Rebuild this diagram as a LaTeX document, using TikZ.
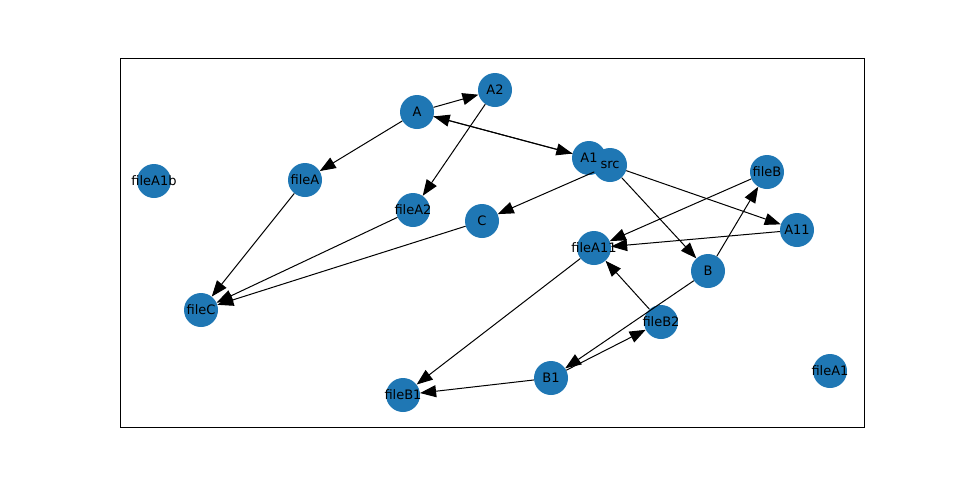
\documentclass[tikz,border=0pt]{standalone}
\usepackage{fontspec}
\setmainfont{DejaVu Sans}
\usetikzlibrary{arrows.meta}
\definecolor{nodeblue}{HTML}{1F77B4}
\tikzset{
  nd/.style={circle,fill=nodeblue,draw=none,minimum size=34pt,inner sep=0pt},
  txt/.style={font=\fontsize{13}{15}\selectfont,text=black,inner sep=0pt},
  edge/.style={draw=black,line width=1pt,-{Triangle[length=16pt,width=12pt]}},
}
\begin{document}
\begin{tikzpicture}[x=1pt,y=-1pt]
\useasboundingbox (0,0) rectangle (960,480);
\draw[line width=0.8pt] (120,58) rectangle (864,427);
\node[nd] (A) at (417,112) {};
\node[nd] (A2) at (495,90) {};
\node[nd] (A1) at (589,158) {};
\node[nd] (src) at (610,165) {};
\node[nd] (fileA) at (305,180) {};
\node[nd] (fileA1b) at (154,181) {};
\node[nd] (fileA2) at (413,210) {};
\node[nd] (C) at (482,221) {};
\node[nd] (fileB) at (767,172) {};
\node[nd] (A11) at (797,230) {};
\node[nd] (fileA11) at (594,248) {};
\node[nd] (B) at (708,271) {};
\node[nd] (fileC) at (201,310) {};
\node[nd] (fileB2) at (661,322) {};
\node[nd] (fileA1) at (830,371) {};
\node[nd] (B1) at (551,378) {};
\node[nd] (fileB1) at (403,395) {};
\foreach \n in {A,A2,A1,src,fileA,fileA1b,fileA2,C,fileB,A11,fileA11,B,fileC,fileB2,fileA1,B1,fileB1}
  \node[txt] (\n-t) at (\n) {\n};
\path[edge] (A) -- (A2);
\path[edge] (A) -- (fileA);
\path[edge] (A) -- (A1);
\path[edge] (A1) -- (A);
\path[edge] (A2) -- (fileA2);
\path[edge] (fileA) -- (fileC);
\path[edge] (fileA2) -- (fileC);
\path[edge] (C) -- (fileC);
\path[edge] (src) -- (C);
\path[edge] (src) -- (B);
\path[edge] (src) -- (A11);
\path[edge] (fileB) -- (fileA11);
\path[edge] (A11) -- (fileA11);
\path[edge] (B) -- (fileB);
\path[edge] (B) -- (B1);
\path[edge] (fileB2) -- (fileA11);
\path[edge] (B1) -- (fileB2);
\path[edge] (fileA11) -- (fileB1);
\path[edge] (B1) -- (fileB1);
\end{tikzpicture}
\end{document}
